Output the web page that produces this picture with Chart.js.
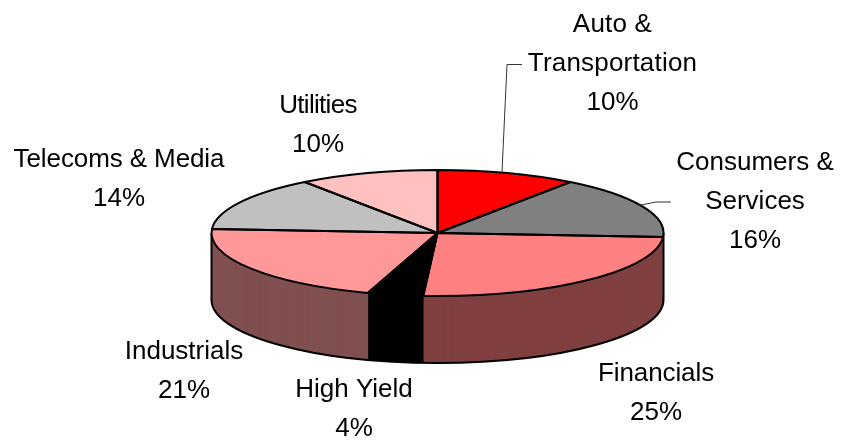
<!DOCTYPE html>
<html><head><meta charset="utf-8">
<style>html,body{margin:0;padding:0;background:#fff}canvas{display:block}</style>
<script src="https://cdn.jsdelivr.net/npm/chart.js@4"></script>
</head><body><canvas id="c" width="844" height="441"></canvas>
<script>
const categories = ["Auto & Transportation","Consumers & Services","Financials","High Yield","Industrials","Telecoms & Media","Utilities"];
const shares = [10,16,25,4,21,14,10];
const topColors = ["#FF0000","#808080","#FF8080","#000000","#FF9999","#C0C0C0","#FFC0C0"];
const sideColors = ["#800000","#404040","#804040","#000000","#805050","#606060","#806060"];
const labelLines = [["Auto &","Transportation"],["Consumers &","Services"],["Financials"],["High Yield"],["Industrials"],["Telecoms & Media"],["Utilities"]];
const labelX = [612.5,755,656,354,184,119,318];
const labelBase = [32,170,381,397,359,167,113];
const labelTrack = [0.2,0,-0.1,0,0,-0.1,-0.7];
const leaders = [[[522,64.5],[507,64.5],[502,172]],[[671,202],[656,202],[641,205]]];
const RX = 226, RY = 63, DEPTH = 67, LINE_GAP = 39;

function tilt(ctx, arc, dy){
  const R = arc.outerRadius;
  ctx.translate(arc.x, arc.y + dy);
  ctx.scale(RX / R, RY / R);
  ctx.translate(-arc.x, -arc.y);
}
const pie3d = {
  id:"pie3d",
  beforeDatasetDraw(chart){
    const ctx = chart.ctx, arcs = chart.getDatasetMeta(0).data;
    // side wall: the same arcs, repeated downwards in the darker colours
    for(let dy = DEPTH; dy > 0; dy -= 0.5){
      arcs.forEach((a,i)=>{
        const saved = a.options;
        a.options = Object.assign({}, saved, {backgroundColor: sideColors[i]});
        ctx.save(); tilt(ctx,a,dy); a.draw(ctx); ctx.restore();
        a.options = saved;
      });
    }
    // outline of the wall
    const a0 = arcs[0];
    ctx.save();
    ctx.beginPath();
    ctx.save(); tilt(ctx,a0,DEPTH); ctx.arc(a0.x,a0.y,a0.outerRadius,0,Math.PI); ctx.restore();
    ctx.lineTo(a0.x-RX,a0.y);
    ctx.moveTo(a0.x+RX,a0.y); ctx.lineTo(a0.x+RX,a0.y+DEPTH);
    ctx.strokeStyle="#000"; ctx.lineWidth=2; ctx.stroke();
    ctx.restore();
    ctx.save(); tilt(ctx,a0,0);
  },
  afterDatasetDraw(chart){
    const ctx = chart.ctx, arcs = chart.getDatasetMeta(0).data;
    ctx.restore();
    arcs.forEach(a=>{
      ctx.save();
      ctx.beginPath();
      ctx.save(); tilt(ctx,a,0);
      ctx.moveTo(a.x,a.y);
      ctx.arc(a.x,a.y,a.outerRadius,a.startAngle,a.endAngle);
      ctx.closePath();
      ctx.restore();
      ctx.strokeStyle="#000"; ctx.lineWidth=2; ctx.lineJoin="round"; ctx.stroke();
      ctx.restore();
    });
  },
  afterDraw(chart){
    const ctx = chart.ctx;
    ctx.save();
    ctx.strokeStyle="#333"; ctx.lineWidth=1;
    leaders.forEach(l=>{
      ctx.beginPath();
      l.forEach((p,i)=> i ? ctx.lineTo(p[0],p[1]) : ctx.moveTo(p[0],p[1]));
      ctx.stroke();
    });
    ctx.fillStyle="#000";
    ctx.font='26px "Liberation Sans", Arial, sans-serif';
    ctx.textAlign="center"; ctx.textBaseline="alphabetic";
    labelLines.forEach((lines,i)=>{
      const rows = lines.concat(shares[i]+"%");
      rows.forEach((t,j)=>{
        ctx.letterSpacing = (j < lines.length ? labelTrack[i] : 0) + "px";
        ctx.fillText(t,labelX[i],labelBase[i]+j*LINE_GAP);
      });
    });
    ctx.restore();
  }
};
new Chart(document.getElementById("c"),{
  type:"pie",
  data:{labels:categories,datasets:[{data:shares,backgroundColor:topColors,borderWidth:0}]},
  options:{
    responsive:false,animation:false,
    layout:{padding:{left:31,right:0,top:25,bottom:0}},
    plugins:{legend:{display:false},tooltip:{enabled:false},title:{display:false}}
  },
  plugins:[pie3d]
});
</script></body></html>
